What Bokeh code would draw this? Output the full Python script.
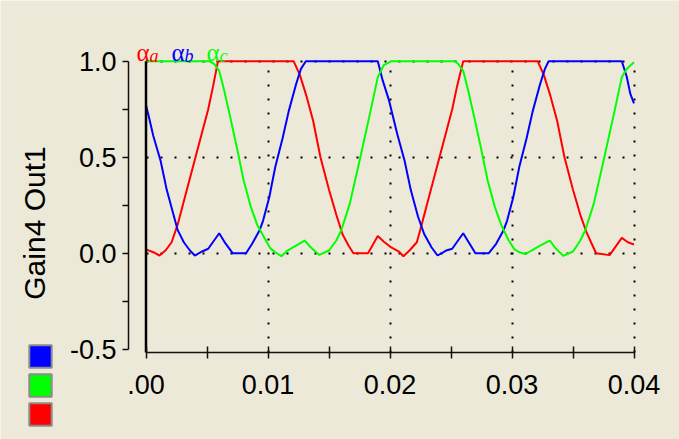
import math
from bokeh.plotting import figure
from bokeh.models import (Range1d, FixedTicker, NumeralTickFormatter, Label,
                          Legend, LegendItem)
from bokeh.embed import file_html
from bokeh.resources import INLINE

# ---------------- data ----------------
t_a = [0.0, 0.0006, 0.0011, 0.0016, 0.0021, 0.0026, 0.0031, 0.0036, 0.0041, 0.0046,
       0.0051, 0.0055, 0.0059, 0.0121, 0.0126, 0.0131, 0.0137, 0.0143, 0.0150, 0.0156,
       0.0161, 0.0166, 0.0170, 0.0182, 0.0190, 0.0195, 0.0201, 0.0207, 0.0211, 0.0216,
       0.0222, 0.0226, 0.0231, 0.0236, 0.0241, 0.0246, 0.0251, 0.0255, 0.0260, 0.0321,
       0.0326, 0.0331, 0.0337, 0.0343, 0.0350, 0.0356, 0.0361, 0.0366, 0.0369, 0.0380,
       0.0390, 0.0395, 0.0400]
v_a = [0.02, 0.005, -0.012, 0.014, 0.057, 0.15, 0.27, 0.39, 0.51, 0.63,
       0.75, 0.87, 1.0, 1.0, 0.93, 0.83, 0.69, 0.5, 0.33, 0.2,
       0.10, 0.04, 0.0, 0.0, 0.089, 0.06, 0.03, 0.01, -0.016, 0.014,
       0.057, 0.15, 0.27, 0.39, 0.51, 0.63, 0.75, 0.87, 1.0, 1.0,
       0.93, 0.83, 0.69, 0.5, 0.33, 0.2, 0.11, 0.04, 0.0, -0.01,
       0.08, 0.057, 0.045]

t_b = [0.0, 0.0002, 0.0006, 0.0012, 0.0017, 0.0023, 0.0026, 0.0031, 0.0036, 0.0040,
       0.0046, 0.0051, 0.0060, 0.0065, 0.0071, 0.0082, 0.0087, 0.0093, 0.0096, 0.0101,
       0.0106, 0.0112, 0.0117, 0.0123, 0.0127, 0.0131, 0.0190, 0.0194, 0.0199, 0.0206,
       0.0212, 0.0217, 0.0223, 0.0228, 0.0234, 0.0239, 0.0246, 0.0251, 0.0260, 0.0265,
       0.0270, 0.0281, 0.0287, 0.0293, 0.0296, 0.0301, 0.0306, 0.0312, 0.0317, 0.0323,
       0.0327, 0.0330, 0.0390, 0.0394, 0.0397, 0.0400]
v_b = [0.77, 0.72, 0.61, 0.48, 0.33, 0.19, 0.12, 0.057, 0.014, -0.012,
       0.009, 0.023, 0.104, 0.052, 0.0, 0.0, 0.049, 0.118, 0.17, 0.29,
       0.45, 0.60, 0.74, 0.88, 0.96, 1.0, 1.0, 0.9, 0.8, 0.62,
       0.48, 0.33, 0.19, 0.10, 0.031, -0.012, 0.014, 0.023, 0.104, 0.052,
       0.0, 0.0, 0.049, 0.118, 0.17, 0.29, 0.45, 0.60, 0.74, 0.88,
       0.96, 1.0, 1.0, 0.92, 0.83, 0.78]

t_c = [0.0, 0.0052, 0.0056, 0.0060, 0.0064, 0.0069, 0.0075, 0.0080, 0.0086, 0.0091,
       0.0097, 0.0102, 0.0106, 0.0111, 0.0116, 0.0123, 0.0130, 0.0135, 0.0142, 0.0150,
       0.0156, 0.0160, 0.0167, 0.0175, 0.0183, 0.0190, 0.0195, 0.0201, 0.0253, 0.0256,
       0.0260, 0.0264, 0.0269, 0.0275, 0.0280, 0.0286, 0.0291, 0.0297, 0.0302, 0.0306,
       0.0311, 0.0316, 0.0323, 0.0331, 0.0335, 0.0342, 0.0350, 0.0356, 0.0360, 0.0367,
       0.0375, 0.0383, 0.0390, 0.0394, 0.0400]
v_c = [1.0, 1.0, 0.985, 0.95, 0.85, 0.71, 0.535, 0.38, 0.24, 0.15,
       0.08, 0.025, 0.005, -0.016, 0.014, 0.04, 0.066, 0.031, -0.009, 0.014,
       0.066, 0.118, 0.257, 0.48, 0.71, 0.917, 0.98, 1.0, 1.0, 0.985,
       0.95, 0.85, 0.71, 0.535, 0.38, 0.24, 0.15, 0.07, 0.02, 0.005,
       -0.005, 0.014, 0.04, 0.066, 0.031, -0.014, 0.009, 0.066, 0.118, 0.257,
       0.48, 0.71, 0.917, 0.96, 0.995]

x_ticks = [0.0, 0.01, 0.02, 0.03, 0.04]
x_minor_ticks = [0.005, 0.015, 0.025, 0.035]
x_first_label = ".00"
y_ticks = [-0.5, 0.0, 0.5, 1.0]
y_minor_ticks = [-0.25, 0.25, 0.75]
y_grid_ticks = [0.0, 0.5, 1.0]
y_title = "Gain4 Out1"
series_labels = ["a", "b", "c"]
series_colors = ["#FF0000", "#0000FF", "#00FF00"]
legend_square_order = [1, 2, 0]   # blue, green, red

# ---------------- layout constants ----------------
W, H = 679, 439
X0_PX, PX_PER_X = 145.5, 12200.0      # pixel of t=0, pixels per unit t
Y0_PX, PX_PER_Y = 252.7, 192.0        # pixel of v=0, pixels per unit v
YAXIS_PX, XAXIS_PX = 128.0, 352.0     # where the axis lines sit

def xd(px):
    return (px - X0_PX) / PX_PER_X

def yd(py):
    return (Y0_PX - py) / PX_PER_Y

BG = "#ECE9D8"
FONT = "Liberation Sans"

p = figure(width=W, height=H, output_backend="svg", toolbar_location=None,
           x_range=Range1d(xd(0), xd(W)), y_range=Range1d(yd(H), yd(0)),
           min_border=0, min_border_left=0, min_border_right=0,
           min_border_top=0, min_border_bottom=0,
           background_fill_color=BG, border_fill_color=BG,
           outline_line_color=None)

# axes
xa = p.xaxis[0]
xa.fixed_location = yd(XAXIS_PX)
xa.ticker = FixedTicker(ticks=x_ticks, minor_ticks=x_minor_ticks)
xa.formatter = NumeralTickFormatter(format="0.00")
xa.major_label_overrides = {0: x_first_label}
xa.bounds = (x_ticks[0], x_ticks[-1])
xa.axis_line_color = "#111111"
xa.axis_line_width = 1.5
xa.major_tick_in = 6
xa.major_tick_out = 6
xa.minor_tick_in = 6
xa.minor_tick_out = 6
xa.major_tick_line_color = "#111111"
xa.minor_tick_line_color = "#111111"
xa.major_tick_line_width = 1.5
xa.minor_tick_line_width = 1.5
xa.major_label_text_font = FONT
xa.major_label_text_font_size = "27px"
xa.major_label_text_color = "#000000"
xa.major_label_standoff = 16

ya = p.yaxis[0]
ya.fixed_location = xd(YAXIS_PX)
ya.ticker = FixedTicker(ticks=y_ticks, minor_ticks=y_minor_ticks)
ya.formatter = NumeralTickFormatter(format="0.0")
ya.bounds = (y_ticks[0], y_ticks[-1])
ya.axis_line_color = "#111111"
ya.axis_line_width = 1.5
ya.major_tick_in = 0
ya.major_tick_out = 6
ya.minor_tick_in = 0
ya.minor_tick_out = 6
ya.major_tick_line_color = "#111111"
ya.minor_tick_line_color = "#111111"
ya.major_tick_line_width = 1.5
ya.minor_tick_line_width = 1.5
ya.major_label_text_font = FONT
ya.major_label_text_font_size = "27px"
ya.major_label_text_color = "#000000"
ya.major_label_standoff = 6

# grids (dotted)
p.xgrid.ticker = FixedTicker(ticks=x_ticks[1:])
p.ygrid.ticker = FixedTicker(ticks=y_grid_ticks)
p.xgrid.cross_bounds = (yd(XAXIS_PX), y_ticks[-1])
p.ygrid.cross_bounds = (x_ticks[0], x_ticks[-1])
for g in (p.xgrid[0], p.ygrid[0]):
    g.grid_line_color = "#000000"
    g.grid_line_dash = "2 12"
    g.grid_line_width = 2

# series
series = [(t_a, v_a), (t_b, v_b), (t_c, v_c)]
for (tt, vv), col in zip(series, series_colors):
    p.line(tt, vv, line_color=col, line_width=2)

# thick zero-time line
p.segment(x0=[x_ticks[0]], x1=[x_ticks[0]], y0=[yd(XAXIS_PX)], y1=[y_ticks[-1]],
          line_color="#000000", line_width=2.5)

# legend squares at lower left (renderers hold one non-drawable point)
nan = float("nan")
items = []
for idx in legend_square_order:
    r = p.rect(x=[nan], y=[nan], width=[nan], height=[nan],
               fill_color=series_colors[idx], line_color="#8C8C8C", line_width=2)
    items.append(LegendItem(label=" ", renderers=[r]))
leg = Legend(items=items, location=(25.5, 11.5), orientation="vertical",
             glyph_width=28, glyph_height=28, spacing=1, padding=0, margin=0,
             label_standoff=0, label_width=0, label_height=0,
             label_text_font_size="1px", border_line_color=None,
             background_fill_alpha=0)
p.add_layout(leg)

# alpha labels at top
alpha_px = [136, 171, 206]
for i, name in enumerate(series_labels):
    col = series_colors[i]
    p.add_layout(Label(x=alpha_px[i], y=H - 52, x_units="screen", y_units="screen",
                       text="\u03b1", text_color=col, text_font="Liberation Serif",
                       text_font_size="25px", text_baseline="alphabetic"))
    p.add_layout(Label(x=alpha_px[i] + 13, y=H - 55, x_units="screen", y_units="screen",
                       text=name, text_color=col, text_font="Liberation Serif",
                       text_font_style="italic", text_font_size="18px",
                       text_baseline="alphabetic"))

# y title
p.add_layout(Label(x=33.5, y=H - 222.5, x_units="screen", y_units="screen",
                   text=y_title, angle=math.pi / 2, text_align="center",
                   text_baseline="middle", text_font=FONT, text_font_size="30px",
                   text_color="#000000"))

open("out.html", "w").write(file_html(p, INLINE))
